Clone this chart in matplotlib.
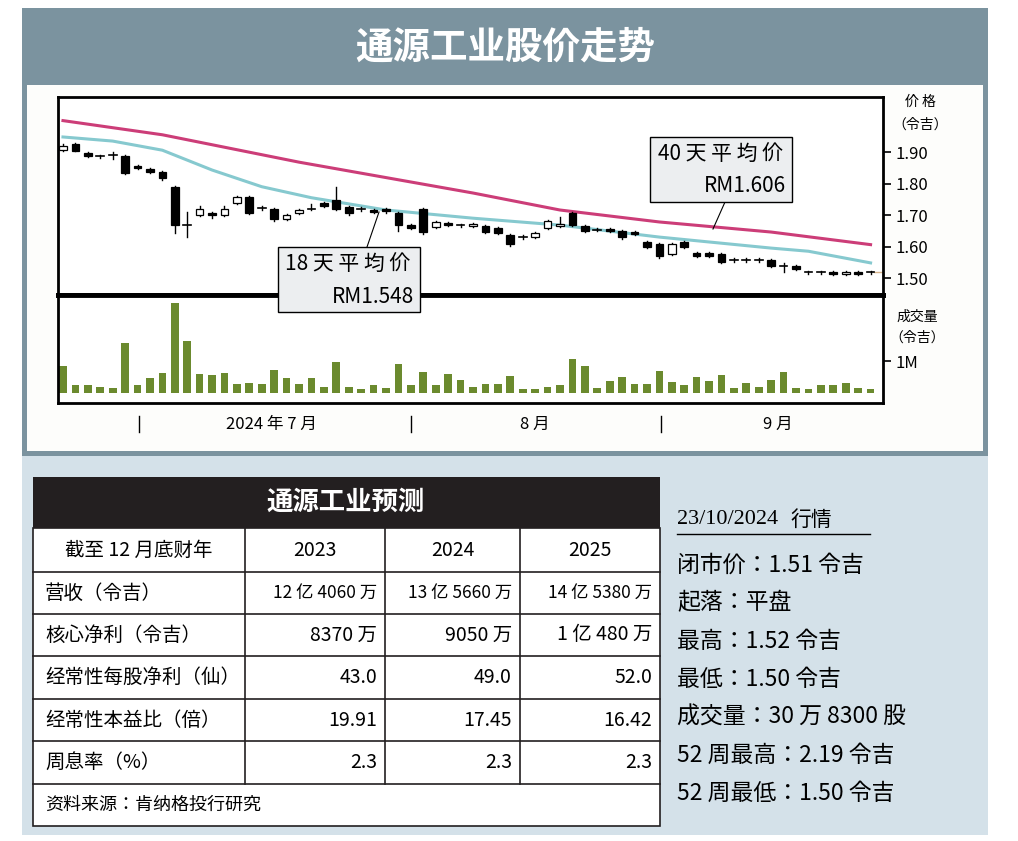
import matplotlib
matplotlib.use("Agg")
import matplotlib.pyplot as plt
from matplotlib.patches import Rectangle
from matplotlib.lines import Line2D
from matplotlib import font_manager as fm

cjk = None
for pref in ['Noto Sans CJK SC', 'Noto Sans CJK JP', 'Noto Sans CJK TC', 'Noto Sans CJK KR']:
    if any(f.name == pref for f in fm.fontManager.ttflist):
        cjk = pref
        break
if cjk is None:
    for f in fm.fontManager.ttflist:
        if 'CJK' in f.name or 'CJK' in f.fname:
            cjk = f.name
            break
if cjk is None:
    cjk = 'DejaVu Sans'
plt.rcParams['font.family'] = [cjk, 'DejaVu Sans']

opens = [1.906,1.925,1.897,1.887,1.890,1.887,1.856,1.846,1.836,1.789,1.668,1.700,1.705,1.700,1.738,1.757,1.722,1.719,1.687,1.705,
         1.719,1.738,1.748,1.725,1.719,1.715,1.719,1.706,1.668,1.719,1.662,1.675,1.668,1.665,1.665,1.659,1.637,1.630,1.630,1.660,
         1.665,1.706,1.665,1.653,1.655,1.649,1.646,1.614,1.608,1.576,1.614,1.579,1.579,1.576,1.557,1.557,1.557,1.557,1.538,1.538,
         1.519,1.519,1.520,1.514,1.520,1.518]
closes = [1.920,1.905,1.889,1.887,1.890,1.833,1.849,1.836,1.817,1.668,1.668,1.719,1.700,1.718,1.757,1.706,1.722,1.687,1.700,1.715,
          1.719,1.728,1.719,1.706,1.719,1.710,1.713,1.668,1.660,1.646,1.678,1.668,1.668,1.672,1.646,1.643,1.608,1.630,1.643,1.680,
          1.672,1.668,1.650,1.653,1.650,1.630,1.640,1.598,1.570,1.608,1.598,1.570,1.570,1.551,1.557,1.557,1.557,1.538,1.538,1.530,
          1.519,1.519,1.514,1.520,1.514,1.518]
highs = [1.925,1.928,1.900,1.892,1.900,1.890,1.860,1.850,1.840,1.792,1.710,1.730,1.710,1.730,1.760,1.760,1.728,1.722,1.703,1.718,
         1.735,1.742,1.790,1.728,1.724,1.718,1.722,1.709,1.672,1.722,1.682,1.678,1.672,1.676,1.668,1.662,1.640,1.636,1.646,1.684,
         1.695,1.709,1.668,1.658,1.658,1.652,1.649,1.617,1.611,1.611,1.617,1.582,1.582,1.579,1.562,1.562,1.562,1.560,1.547,1.541,
         1.523,1.523,1.523,1.523,1.523,1.521]
lows = [1.903,1.902,1.885,1.882,1.878,1.830,1.846,1.833,1.812,1.643,1.630,1.697,1.692,1.697,1.735,1.703,1.716,1.680,1.684,1.702,
        1.716,1.725,1.716,1.700,1.714,1.707,1.708,1.650,1.657,1.640,1.659,1.665,1.663,1.662,1.643,1.640,1.602,1.625,1.627,1.657,
        1.662,1.665,1.645,1.648,1.647,1.625,1.636,1.594,1.562,1.572,1.594,1.566,1.566,1.547,1.552,1.552,1.552,1.534,1.520,1.526,
        1.514,1.514,1.511,1.511,1.511,1.513]
volumes = [0.86,0.25,0.25,0.18,0.16,1.58,0.25,0.46,0.62,2.85,1.64,0.61,0.56,0.62,0.27,0.32,0.27,0.73,0.46,0.27,
           0.46,0.19,0.97,0.19,0.11,0.24,0.14,0.91,0.24,0.67,0.24,0.59,0.42,0.19,0.28,0.28,0.53,0.13,0.12,0.20,
           0.26,1.06,0.85,0.15,0.39,0.49,0.28,0.28,0.69,0.35,0.24,0.49,0.39,0.58,0.17,0.31,0.20,0.42,0.65,0.17,
           0.13,0.26,0.24,0.31,0.17,0.13]
ma18_idx = [0,4,8,12,16,20,26,33,40,48,57,60,65]
ma18_val = [1.948,1.935,1.906,1.843,1.790,1.755,1.716,1.690,1.668,1.630,1.595,1.585,1.548]
ma40_idx = [0,8,19,33,40,48,57,65]
ma40_val = [2.000,1.955,1.868,1.770,1.716,1.678,1.646,1.606]
price_ticks = [1.50,1.60,1.70,1.80,1.90]
month_labels = ["2024 年 7 月", "8 月", "9 月"]
month_label_pos = [16.8, 38.0, 57.5]
month_tick_pos = [6.1, 28.0, 48.1]

table_header = ["截至 12 月底财年", "2023", "2024", "2025"]
table_rows = [["营收（令吉）", "12 亿 4060 万", "13 亿 5660 万", "14 亿 5380 万"],
              ["核心净利（令吉）", "8370 万", "9050 万", "1 亿 480 万"],
              ["经常性每股净利（仙）", "43.0", "49.0", "52.0"],
              ["经常性本益比（倍）", "19.91", "17.45", "16.42"],
              ["周息率（%）", "2.3", "2.3", "2.3"]]
side_lines = ["闭市价：1.51 令吉", "起落：平盘", "最高：1.52 令吉", "最低：1.50 令吉",
              "成交量：30 万 8300 股", "52 周最高：2.19 令吉", "52 周最低：1.50 令吉"]

W, H = 1018, 841
fig = plt.figure(figsize=(W/100, H/100), dpi=100)
fig.patch.set_facecolor('white')

def R(x0, y0, x1, y1, **kw):
    fig.patches.append(Rectangle((x0/W, 1-y1/H), (x1-x0)/W, (y1-y0)/H, transform=fig.transFigure, **kw))
def T(x, y, s, **kw):
    fig.text(x/W, 1-y/H, s, **kw)
def L(x0, y0, x1, y1, **kw):
    fig.lines.append(Line2D([x0/W, x1/W], [1-y0/H, 1-y1/H], transform=fig.transFigure, **kw))

R(22, 8, 988, 456, facecolor='#7b939f', edgecolor='none', zorder=-10)
R(27, 85, 983, 451, facecolor='#fdfdfb', edgecolor='none', zorder=-9)
R(22, 456, 988, 835, facecolor='#d4e1e9', edgecolor='none', zorder=-10)
T(505, 47, "通源工业股价走势", color='white', fontsize=27, fontweight='bold', ha='center', va='center')

x0, x1 = 58, 883
ax = fig.add_axes([x0/W, 1-295/H, (x1-x0)/W, (295-97)/H])
axv = fig.add_axes([x0/W, 1-403/H, (x1-x0)/W, (403-295)/H])
for a in (ax, axv):
    a.set_zorder(2)
    a.set_xlim(-0.4, 66.0)
    a.set_facecolor('white')
    for s in a.spines.values():
        s.set_linewidth(2)
    a.set_xticks([])
    a.yaxis.tick_right()
    a.tick_params(axis='y', direction='out', length=6, width=1.2, labelsize=12, pad=3)
ax.spines['bottom'].set_linewidth(3.5)
axv.spines['top'].set_linewidth(3.5)
ax.set_ylim(1.446, 2.075)
ax.set_yticks(price_ticks)
ax.set_yticklabels([f"{v:.2f}" for v in price_ticks])
axv.set_ylim(-0.32, 3.1)
axv.set_yticks([1])
axv.set_yticklabels(["1M"])

bw = 0.62
for i, (o, c, h, l) in enumerate(zip(opens, closes, highs, lows)):
    ax.plot([i, i], [l, h], color='black', lw=1, zorder=3)
    if abs(c - o) < 0.001:
        ax.plot([i-bw/2, i+bw/2], [o, o], color='black', lw=1.2, zorder=4)
    else:
        ax.add_patch(Rectangle((i-bw/2, min(o, c)), bw, abs(c-o),
                               facecolor='white' if c > o else 'black', edgecolor='black', lw=0.9, zorder=4))
ax.plot(ma18_idx, ma18_val, color='#86c9cf', lw=2.2, zorder=2)
ax.plot(ma40_idx, ma40_val, color='#cc3d78', lw=2.2, zorder=2)
ax.plot([65.3, 66.0], [1.518, 1.518], color='#d8b48c', lw=1, zorder=2)

axv.bar(range(len(volumes)), volumes, width=0.62, color='#6b8a2e')

T(920, 102, "价 格", fontsize=10, ha='center', va='center')
T(920, 125, "（令吉）", fontsize=10, ha='center', va='center')
T(917, 317, "成交量", fontsize=10, ha='center', va='center')
T(917, 338, "（令吉）", fontsize=10, ha='center', va='center')

# annotation boxes
L(725, 202, 713, 229, color='black', lw=0.8, zorder=10)
R(650, 137, 792, 202, facecolor='#eceef0', edgecolor='black', lw=1, zorder=10)
T(720, 154, "40 天 平 均 价", fontsize=15, ha='center', va='center', zorder=11)
T(786, 186, "RM1.606", fontsize=15, ha='right', va='center', zorder=11)
L(367, 247, 379, 212, color='black', lw=0.8, zorder=10)
R(278, 247, 420, 312, facecolor='#eceef0', edgecolor='black', lw=1, zorder=10)
T(348, 264, "18 天 平 均 价", fontsize=15, ha='center', va='center', zorder=11)
T(414, 297, "RM1.548", fontsize=15, ha='right', va='center', zorder=11)

def xpix(i):
    return x0 + (i + 0.4) / 66.4 * (x1 - x0)
for p in month_tick_pos:
    L(xpix(p), 416, xpix(p), 432, color='black', lw=1)
for p, s in zip(month_label_pos, month_labels):
    T(xpix(p), 424, s, fontsize=12, ha='center', va='center')

# table
R(33, 477, 660, 528, facecolor='#231f20', edgecolor='none', zorder=1)
R(33, 528, 660, 826, facecolor='white', edgecolor='#231f20', lw=1.2, zorder=1)
T(346, 502, "通源工业预测", color='white', fontsize=19, fontweight='bold', ha='center', va='center')
ys = [528, 572, 614, 656, 699, 741, 784, 826]
cols = [33, 245, 385, 520, 660]
for y in ys[1:-1]:
    L(33, y, 660, y, color='#231f20', lw=1.2)
for x in cols[1:-1]:
    L(x, 528, x, 784, color='#231f20', lw=1.2)
yc = [(ys[k]+ys[k+1])/2 for k in range(len(ys)-1)]
T(139, yc[0], table_header[0], fontsize=14, ha='center', va='center')
for j in range(1, 4):
    T((cols[j]+cols[j+1])/2, yc[0], table_header[j], fontsize=14, ha='center', va='center')
for r, row in enumerate(table_rows):
    T(45, yc[r+1], row[0], fontsize=14, ha='left', va='center')
    for j in range(1, 4):
        T(cols[j+1]-8, yc[r+1], row[j], fontsize=12.5 if r == 0 else 14, ha='right', va='center')
T(45, yc[6], "资料来源：肯纳格投行研究", fontsize=13, ha='left', va='center')

T(677, 520, "23/10/2024", fontsize=16, fontfamily='Liberation Serif', ha='left', va='center')
T(790, 520, "行情", fontsize=15, ha='left', va='center')
L(677, 534, 870, 534, color='black', lw=1)
for k, s in enumerate(side_lines):
    T(677, 565 + k*38, s, fontsize=16.5, ha='left', va='center')

fig.savefig("out.png", dpi=100)
